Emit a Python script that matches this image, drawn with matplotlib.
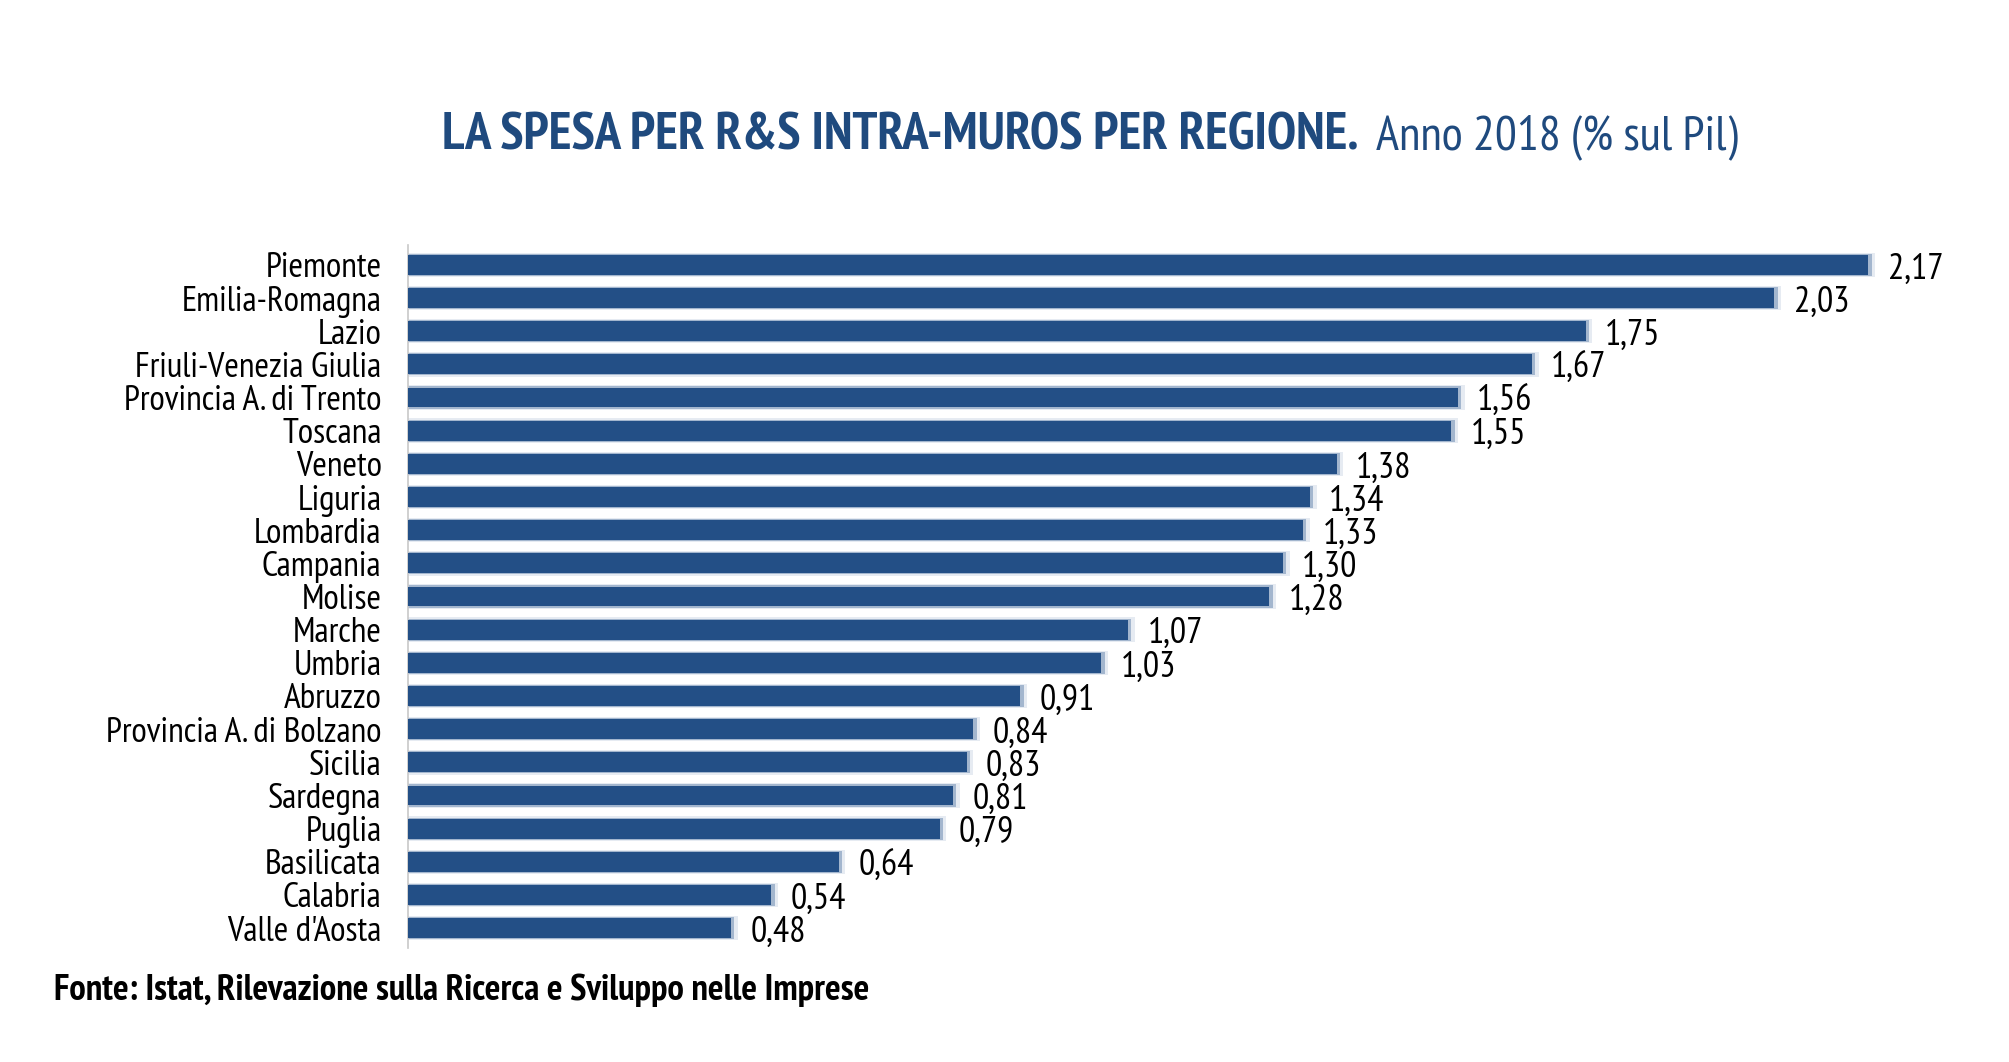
import matplotlib
matplotlib.use('Agg')
import matplotlib.pyplot as plt

# Dati (% sul Pil, 2018)
regioni = ['Piemonte', 'Emilia-Romagna', 'Lazio', 'Friuli-Venezia Giulia',
           'Provincia A. di Trento', 'Toscana', 'Veneto', 'Liguria', 'Lombardia',
           'Campania', 'Molise', 'Marche', 'Umbria', 'Abruzzo',
           'Provincia A. di Bolzano', 'Sicilia', 'Sardegna', 'Puglia',
           'Basilicata', 'Calabria', "Valle d'Aosta"]
valori = [2.17, 2.03, 1.75, 1.67, 1.56, 1.55, 1.38, 1.34, 1.33, 1.30, 1.28,
          1.07, 1.03, 0.91, 0.84, 0.83, 0.81, 0.79, 0.64, 0.54, 0.48]

titolo_bold = 'LA SPESA PER R&S INTRA-MUROS PER REGIONE.'
titolo_reg = 'Anno 2018 (% sul Pil)'
fonte = 'Fonte: Istat, Rilevazione sulla Ricerca e Sviluppo nelle Imprese'

FONT = ['PT Sans Narrow', 'Archivo Narrow', 'Liberation Sans']
BLU = '#234f86'
TITOLO_BLU = '#1f4a7e'

W, H = 2009, 1062
fig = plt.figure(figsize=(W / 100, H / 100), dpi=100)
fig.patch.set_facecolor('white')

# posizione assi in pixel
x0, x1 = 408, 2009
y_top, y_bot = 245, 948
ax = fig.add_axes([x0 / W, 1 - y_bot / H, (x1 - x0) / W, (y_bot - y_top) / H])

pos = list(range(len(regioni)))
# alone sfumato attorno alle barre
ax.barh(pos, [v + 0.010 for v in valori], height=0.74, color='#e6ebf2', zorder=1)
ax.barh(pos, [v + 0.005 for v in valori], height=0.67, color='#a3b6ce', zorder=2)
ax.barh(pos, valori, height=0.60, color=BLU, zorder=3)

for i, v in enumerate(valori):
    ax.annotate(f'{v:.2f}'.replace('.', ','), xy=(v, i), xytext=(14, -3),
                textcoords='offset points', ha='left', va='center',
                fontsize=26, family=FONT, color='black')

ax.set_xlim(0, (x1 - x0) / 673)
ax.set_ylim(len(regioni) - 0.4, -0.6)
ax.set_yticks(pos)
ax.set_yticklabels(regioni, family=FONT, fontsize=25.5)
ax.tick_params(axis='y', length=0, pad=19)
ax.set_xticks([])
for s in ['top', 'right', 'bottom']:
    ax.spines[s].set_visible(False)
ax.spines['left'].set_color('#c8c8c8')
ax.spines['left'].set_linewidth(1.2)

# titolo in due parti
t1 = fig.text(442 / W, 1 - 137 / H, titolo_bold, ha='left', va='center',
              fontsize=38, fontweight='bold', family=FONT, color=TITOLO_BLU)
fig.canvas.draw()
bb = t1.get_window_extent()
fig.text((bb.x1 + 17) / W, 1 - 137 / H, titolo_reg, ha='left', va='center',
         fontsize=35, family=FONT, color=TITOLO_BLU)

fig.text(54 / W, 1 - 990 / H, fonte, ha='left', va='center',
         fontsize=26.5, fontweight='bold', family=FONT, color='black')

fig.savefig('out.png', dpi=100)
plt.close()
